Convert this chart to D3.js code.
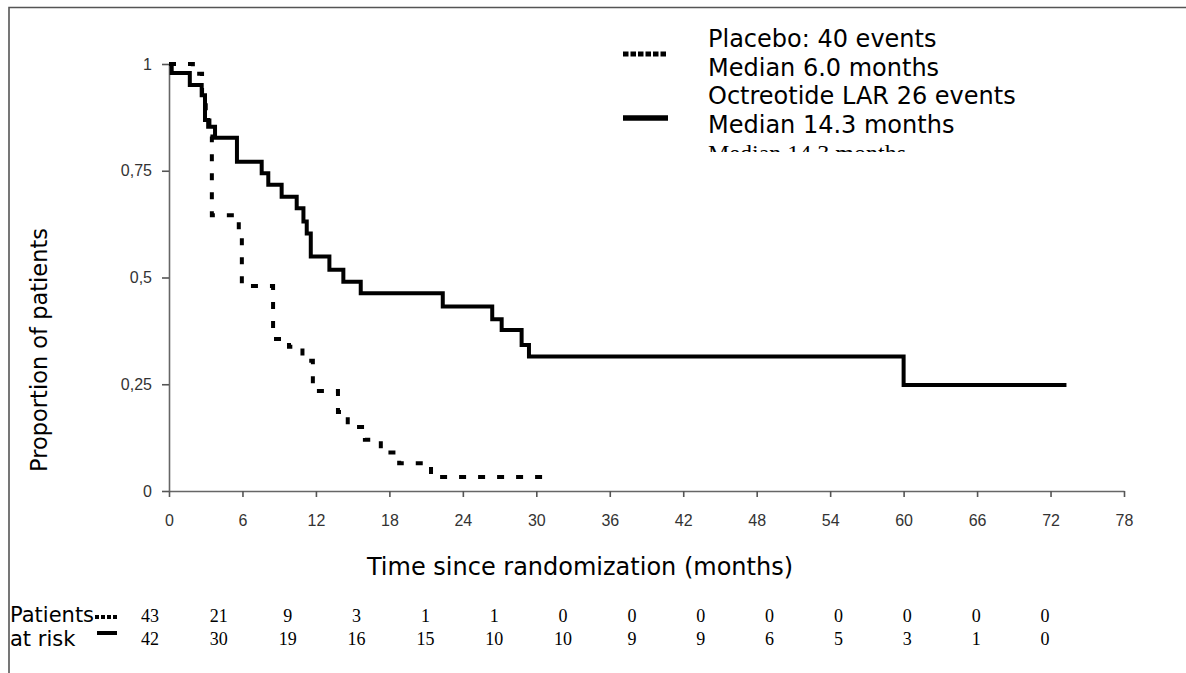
<!DOCTYPE html>
<html><head><meta charset="utf-8">
<script src="https://cdn.jsdelivr.net/npm/d3@7/dist/d3.min.js"></script>
<style>body{margin:0;background:#fff;overflow:hidden}</style>
</head><body>
<svg id="chart" width="1186" height="673"></svg>
<script>
// ---- data ----
const xTicks = [0, 6, 12, 18, 24, 30, 36, 42, 48, 54, 60, 66, 72, 78];
const yTicks = [0, 0.25, 0.5, 0.75, 1];
const yTickLabels = ["0", "0,25", "0,5", "0,75", "1"];

const placeboTime = [0, 1.95, 2.7, 3.0, 3.3, 3.5, 5.7, 5.95, 8.5, 9.8, 10.9, 11.75, 13.8, 14.6, 16.0, 17.3, 18.8, 21.4, 31.0];
const placeboSurv = [1, 0.977, 0.93, 0.88, 0.83, 0.646, 0.6, 0.48, 0.356, 0.338, 0.305, 0.234, 0.185, 0.15, 0.12, 0.09, 0.065, 0.033, 0.033];

const octTime = [0, 0.22, 1.7, 2.67, 2.94, 3.2, 3.76, 5.55, 7.57, 8.11, 9.2, 10.43, 10.98, 11.25, 11.58, 13.1, 14.24, 15.66, 22.36, 26.4, 27.17, 28.8, 29.4, 60.0, 73.3];
const octSurv = [1, 0.979, 0.951, 0.927, 0.869, 0.853, 0.827, 0.771, 0.744, 0.717, 0.689, 0.662, 0.631, 0.603, 0.549, 0.518, 0.49, 0.463, 0.432, 0.402, 0.377, 0.342, 0.315, 0.248, 0.248];

const atRiskTimes = [0, 6, 12, 18, 24, 30, 36, 42, 48, 54, 60, 66, 72, 78];
const placeboAtRisk = [43, 21, 9, 3, 1, 1, 0, 0, 0, 0, 0, 0, 0, 0];
const octAtRisk = [42, 30, 19, 16, 15, 10, 10, 9, 9, 6, 5, 3, 1, 0];

const legendLines = ["Placebo: 40 events", "Median 6.0 months", "Octreotide LAR 26 events", "Median 14.3 months"];
const xTitle = "Time since randomization (months)";
const yTitle = "Proportion of patients";
const riskLabels = ["Patients", "at risk"];

// ---- drawing ----
const svg = d3.select("#chart");
const sans = "'DejaVu Sans', Verdana, sans-serif";
const arial = "'Liberation Sans', Arial, sans-serif";
const serif = "'Liberation Serif', 'Times New Roman', serif";

// frame
svg.append("path").attr("d", "M9,673 V7.5 H1186").attr("fill", "none")
  .attr("stroke", "#555").attr("stroke-width", 1.6);

const x = d3.scaleLinear().domain([0, 78]).range([169, 1124]);
const y = d3.scaleLinear().domain([0, 1]).range([491, 64]);
// the at-risk table is typed in columns that do not sit exactly under the ticks
const xRisk = d3.scalePoint().domain(atRiskTimes).range([150, 1045]);

const xAxis = svg.append("g").attr("transform", "translate(0,491)")
  .call(d3.axisBottom(x).tickValues(xTicks).tickSize(6).tickSizeOuter(0).tickPadding(18));
const yAxis = svg.append("g").attr("transform", "translate(169,0)")
  .call(d3.axisLeft(y).tickValues(yTicks).tickSize(7).tickSizeOuter(0).tickPadding(10)
    .tickFormat((d, i) => yTickLabels[i]));
[xAxis, yAxis].forEach(g => {
  g.select(".domain").attr("stroke", "#666").attr("stroke-width", 1.6);
  g.selectAll(".tick line").attr("stroke", "#555").attr("stroke-width", 1.6);
  g.selectAll(".tick text").attr("fill", "#333").style("font-family", arial).style("font-size", "16px");
});

// curves
const line = d3.line().x(d => x(d[0])).y(d => y(d[1])).curve(d3.curveStepAfter);
const octPts = octTime.map((t, i) => [t, octSurv[i]]);
const plaPts = placeboTime.map((t, i) => [t, placeboSurv[i]]);

svg.append("path").attr("d", line(octPts)).attr("fill", "none")
  .attr("stroke", "#000").attr("stroke-width", 4);
svg.append("path").attr("d", line(plaPts)).attr("fill", "none")
  .attr("stroke", "#000").attr("stroke-width", 4).attr("stroke-dasharray", "7,12");

// axis titles
svg.append("text").attr("x", 580).attr("y", 575).attr("text-anchor", "middle")
  .style("font-family", sans).style("font-size", "24px").attr("fill", "#000").text(xTitle);
svg.append("text").attr("transform", "translate(47,350) rotate(-90)").attr("text-anchor", "middle")
  .style("font-family", sans).style("font-size", "22.5px").attr("fill", "#000").text(yTitle);

// legend
const leg = svg.append("g");
leg.append("line").attr("x1", 623).attr("x2", 668).attr("y1", 54).attr("y2", 54)
  .attr("stroke", "#000").attr("stroke-width", 5).attr("stroke-dasharray", "5.5,2");
leg.append("line").attr("x1", 623).attr("x2", 668).attr("y1", 118).attr("y2", 118)
  .attr("stroke", "#000").attr("stroke-width", 5.5);
leg.selectAll("text.l").data(legendLines).join("text").attr("class", "l")
  .attr("x", 708).attr("y", (d, i) => 47 + i * 28.6)
  .style("font-family", sans).style("font-size", "24px").attr("fill", "#000").text(d => d);
// clipped ghost line under legend
svg.append("clipPath").attr("id", "ghost").append("rect").attr("x", 700).attr("y", 145).attr("width", 260).attr("height", 7);
svg.append("text").attr("clip-path", "url(#ghost)").attr("x", 708).attr("y", 161)
  .style("font-family", serif).style("font-size", "24px").attr("fill", "#000").text(legendLines[3]);

// at risk table
svg.selectAll("text.rl").data(riskLabels).join("text").attr("class", "rl")
  .attr("x", 10).attr("y", (d, i) => 622 + i * 24)
  .style("font-family", sans).style("font-size", "21px").attr("fill", "#000").text(d => d);
svg.append("line").attr("x1", 95).attr("x2", 117).attr("y1", 617).attr("y2", 617)
  .attr("stroke", "#000").attr("stroke-width", 4).attr("stroke-dasharray", "4,2");
svg.append("line").attr("x1", 97).attr("x2", 117).attr("y1", 633).attr("y2", 633)
  .attr("stroke", "#000").attr("stroke-width", 4);

svg.selectAll("text.pr").data(placeboAtRisk).join("text").attr("class", "pr")
  .attr("x", (d, i) => xRisk(atRiskTimes[i])).attr("y", 622).attr("text-anchor", "middle")
  .style("font-family", serif).style("font-size", "18px").attr("fill", "#000").text(d => d);
svg.selectAll("text.or").data(octAtRisk).join("text").attr("class", "or")
  .attr("x", (d, i) => xRisk(atRiskTimes[i])).attr("y", 645).attr("text-anchor", "middle")
  .style("font-family", serif).style("font-size", "18px").attr("fill", "#000").text(d => d);
</script>
</body></html>
